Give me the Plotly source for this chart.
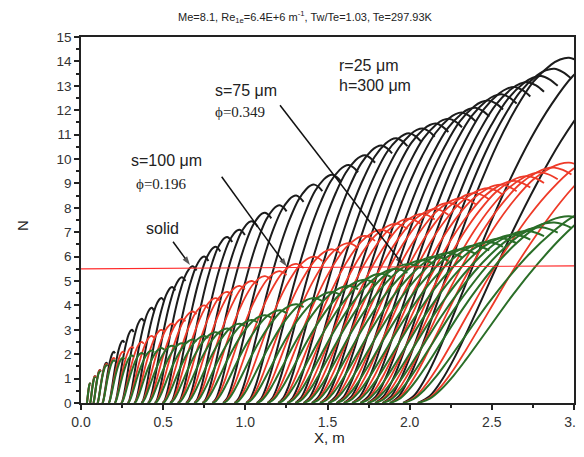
import plotly.graph_objects as go

# ---- data (N-factor curves) ----
# start of each curve (N = 0) and location of its maximum
x_start = [0.035, 0.055, 0.075, 0.10, 0.13, 0.168, 0.205, 0.245, 0.285, 0.325,
           0.368, 0.408, 0.45, 0.497, 0.543, 0.59, 0.64, 0.69, 0.74, 0.80,
           0.865, 0.935, 1.005, 1.07, 1.135, 1.20, 1.255, 1.305, 1.355, 1.405,
           1.455, 1.505, 1.555, 1.60, 1.65, 1.70, 1.745, 1.79, 1.835, 1.88,
           1.96, 2.05]
x_peak = [0.055, 0.085, 0.115, 0.155, 0.20, 0.255, 0.31, 0.37, 0.43, 0.49,
          0.555, 0.615, 0.68, 0.75, 0.82, 0.89, 0.965, 1.04, 1.12, 1.21,
          1.31, 1.42, 1.53, 1.63, 1.73, 1.83, 1.92, 2.00, 2.08, 2.16,
          2.24, 2.32, 2.40, 2.48, 2.56, 2.64, 2.72, 2.80, 2.88, 2.97,
          3.25, 3.50]
n_peak_solid = [0.8, 1.1, 1.35, 1.65, 2.1, 2.55, 3.0, 3.45, 3.9, 4.3,
                4.75, 5.15, 5.6, 6.0, 6.4, 6.8, 7.1, 7.45, 7.8, 8.1,
                8.5, 8.95, 9.35, 9.75, 10.15, 10.55, 10.85, 11.05, 11.25, 11.45,
                11.65, 11.9, 12.1, 12.4, 12.65, 12.95, 13.15, 13.4, 13.7, 14.15,
                14.4, 14.3]
n_peak_s100 = [0.8, 1.1, 1.35, 1.6, 1.85, 2.1, 2.3, 2.5, 2.75, 3.0,
               3.25, 3.45, 3.75, 4.0, 4.3, 4.55, 4.8, 5.0, 5.2, 5.4,
               5.7, 6.0, 6.3, 6.55, 6.85, 7.1, 7.35, 7.55, 7.75, 7.95,
               8.2, 8.4, 8.6, 8.8, 8.95, 9.1, 9.3, 9.45, 9.65, 9.85,
               10.3, 11.0]
n_peak_s75 = [0.8, 1.05, 1.3, 1.55, 1.75, 1.85, 1.95, 2.05, 2.15, 2.25,
              2.35, 2.45, 2.6, 2.75, 2.9, 3.05, 3.25, 3.4, 3.6, 3.8,
              4.05, 4.3, 4.55, 4.8, 5.05, 5.3, 5.5, 5.7, 5.85, 6.0,
              6.15, 6.3, 6.45, 6.6, 6.75, 6.9, 7.05, 7.2, 7.4, 7.65,
              8.2, 9.0]
# shape of one N-factor curve (fraction of span / of max)
profile_u = [0, 0.05, 0.1, 0.15, 0.2, 0.3, 0.4, 0.5, 0.6, 0.7, 0.8, 0.9, 0.95, 1.0, 1.05, 1.1]
profile_v = [0, 0.02, 0.065, 0.125, 0.195, 0.345, 0.495, 0.63, 0.75, 0.85, 0.93, 0.98, 0.995, 1.0, 0.99, 0.97]

# horizontal reference line
ref_x = [0.0, 3.0]
ref_n = [5.5, 5.62]

x_ticks = [0.0, 0.5, 1.0, 1.5, 2.0, 2.5, 3.0]
x_ticktext = ["0.0", "0.5", "1.0", "1.5", "2.0", "2.5", "3.0"]
y_ticks = list(range(0, 16))

families = [
    (n_peak_solid, "#1c1c1c", 2.0),
    (n_peak_s100, "#ee3a28", 1.8),
    (n_peak_s75, "#2a6e28", 2.0),
]

fig = go.Figure()
for n_peak, color, width in families:
    for x0, xp, npk in zip(x_start, x_peak, n_peak):
        xs = [x0 + u * (xp - x0) for u in profile_u]
        ys = [v * npk for v in profile_v]
        fig.add_trace(go.Scatter(x=xs, y=ys, mode="lines",
                                 line=dict(color=color, width=width, shape="spline", smoothing=1.0),
                                 showlegend=False, hoverinfo="skip"))

fig.add_trace(go.Scatter(x=ref_x, y=ref_n, mode="lines",
                         line=dict(color="#ff2a2a", width=1.2),
                         showlegend=False, hoverinfo="skip"))

# label arrows (tail -> tip)
arrows = [((0.56, 6.61), (0.663, 5.66)),
          ((0.856, 9.27), (1.252, 5.59)),
          ((1.211, 12.2), (1.96, 5.66))]
for (tx, ty), (hx, hy) in arrows:
    fig.add_trace(go.Scatter(x=[tx, hx], y=[ty, hy], mode="lines+markers",
                             line=dict(color="#111", width=1.5),
                             marker=dict(symbol="arrow", size=[0, 9], color="#111",
                                         angleref="previous", line=dict(width=0)),
                             showlegend=False, hoverinfo="skip"))

font_sans = "Liberation Sans, Arial, sans-serif"
font_serif = "Liberation Serif, Times New Roman, serif"

annotations = [
    dict(x=1.555, y=13.85, text="r=25 \u03bcm", showarrow=False, xanchor="left", yanchor="middle",
         font=dict(family=font_sans, size=16, color="#222")),
    dict(x=1.555, y=13.0, text="h=300 \u03bcm", showarrow=False, xanchor="left", yanchor="middle",
         font=dict(family=font_sans, size=16, color="#222")),
    dict(x=0.805, y=12.8, text="s=75 \u03bcm", showarrow=False, xanchor="left", yanchor="middle",
         font=dict(family=font_sans, size=16, color="#222")),
    dict(x=0.805, y=11.92, text="\u03d5=0.349", showarrow=False, xanchor="left", yanchor="middle",
         font=dict(family=font_serif, size=15, color="#222")),
    dict(x=0.295, y=9.92, text="s=100 \u03bcm", showarrow=False, xanchor="left", yanchor="middle",
         font=dict(family=font_sans, size=16, color="#222")),
    dict(x=0.325, y=8.98, text="\u03d5=0.196", showarrow=False, xanchor="left", yanchor="middle",
         font=dict(family=font_serif, size=15, color="#222")),
    dict(x=0.385, y=7.16, text="solid", showarrow=False, xanchor="left", yanchor="middle",
         font=dict(family=font_sans, size=16, color="#222")),
    # axis titles
    dict(x=0.505, y=-0.093, xref="paper", yref="paper", text="X, m", showarrow=False,
         xanchor="center", yanchor="middle", font=dict(family=font_sans, size=15, color="#222")),
    dict(x=-0.12, y=0.486, xref="paper", yref="paper", text="N", showarrow=False, textangle=-90,
         xanchor="center", yanchor="middle", font=dict(family=font_sans, size=15, color="#222")),
]

# the page body has an 8 px margin: shift the figure so the plot box sits where the reference has it
fig.update_layout(
    width=576, height=449,
    margin=dict(l=73, r=10, t=29, b=54),
    paper_bgcolor="white", plot_bgcolor="white",
    showlegend=False,
    title=dict(text="Me=8.1, Re<sub>1e</sub>=6.4E+6 m<sup>-1</sup>, Tw/Te=1.03, Te=297.93K",
               x=297 / 576, xref="container", xanchor="center", y=1 - 9 / 449, yref="container",
               yanchor="middle",
               font=dict(family=font_sans, size=11, color="#222")),
    annotations=annotations,
    font=dict(family=font_sans, size=14, color="#333"),
)
fig.update_xaxes(range=[0, 3], tickvals=x_ticks, ticktext=x_ticktext, ticks="outside", ticklen=5,
                 tickwidth=1.5, tickcolor="#222", showline=True, linecolor="#222", linewidth=1.5,
                 mirror=True, showgrid=False, zeroline=False, automargin=False,
                 minor=dict(dtick=0.25, ticks="outside", ticklen=3, tickcolor="#222", showgrid=False),
                 tickfont=dict(family=font_sans, size=14, color="#333"))
fig.update_yaxes(range=[0, 15], tickvals=y_ticks, ticks="outside", ticklen=5,
                 tickwidth=1.5, tickcolor="#222", showline=True, linecolor="#222", linewidth=1.5,
                 mirror=True, showgrid=False, zeroline=False, automargin=False,
                 minor=dict(dtick=0.5, ticks="outside", ticklen=3, tickcolor="#222", showgrid=False),
                 tickfont=dict(family=font_sans, size=13.5, color="#333"))

fig.write_html("out.html")
